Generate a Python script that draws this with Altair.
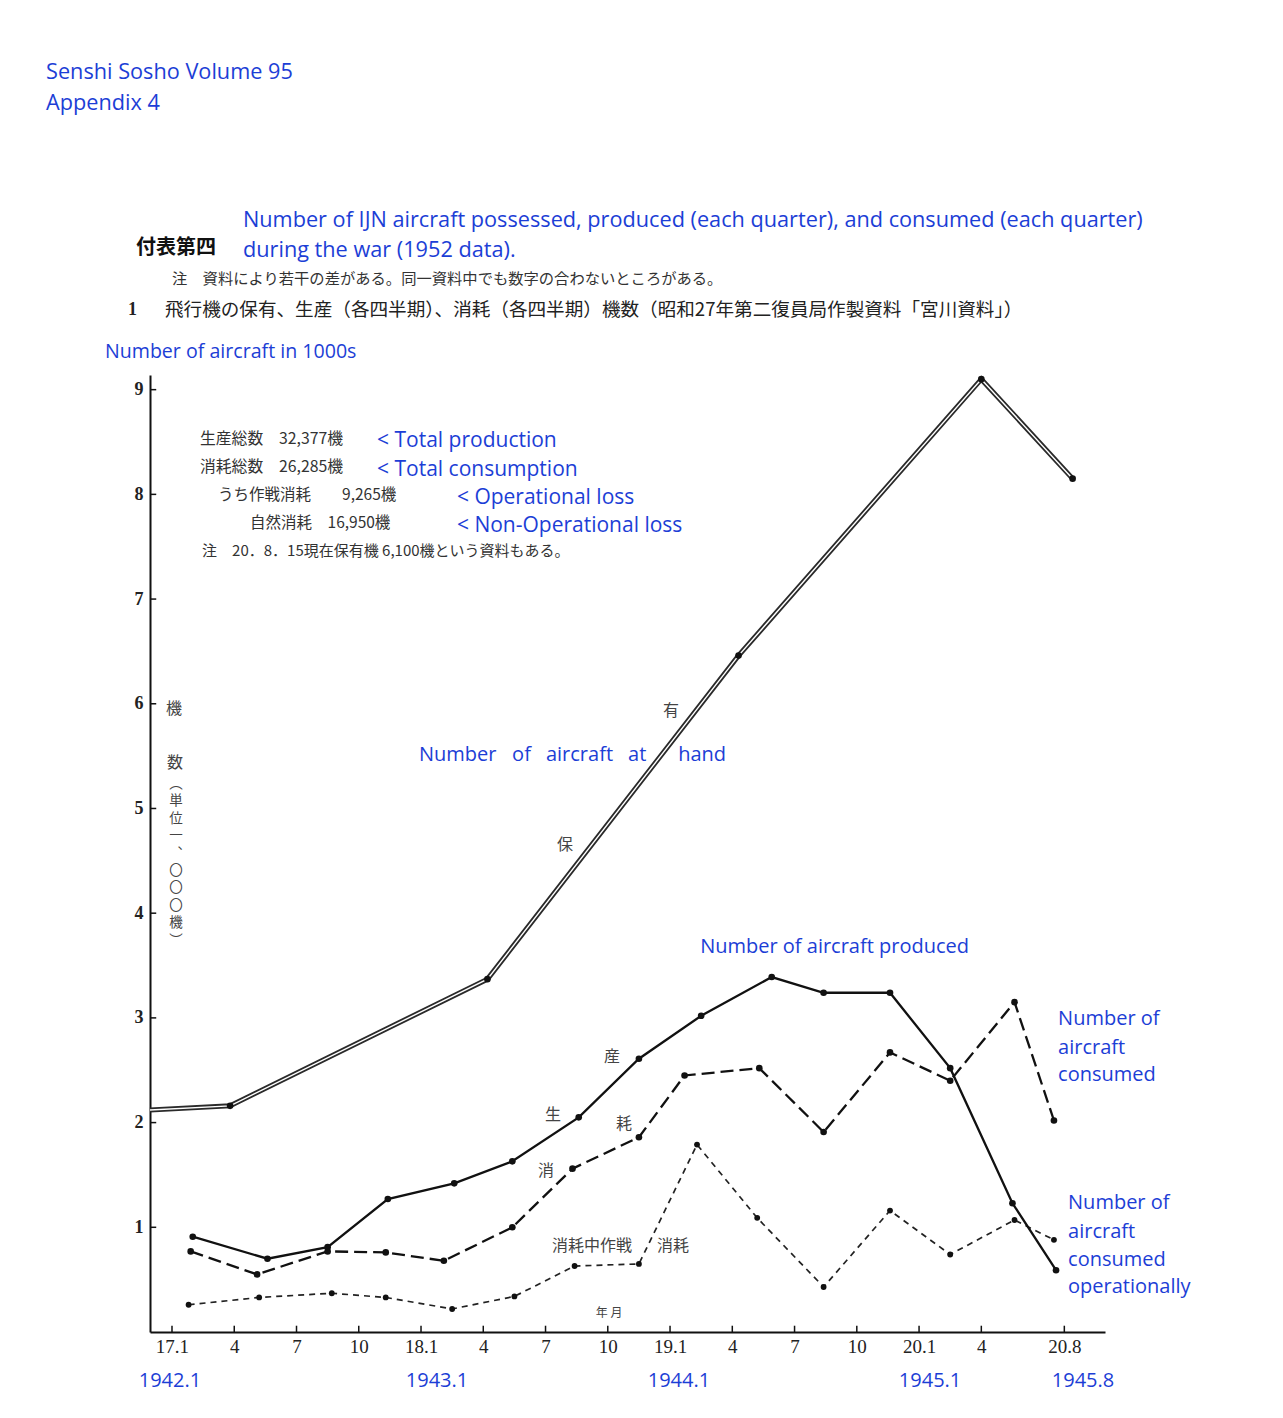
import altair as alt
import pandas as pd

# ---------------- data ----------------
# x = months since January 1942 (Showa 17.1), y = thousands of aircraft
hold_month = [-1.06, 2.8, 15.2, 27.3, 39.0, 43.4]
hold_value = [2.12, 2.16, 3.37, 6.46, 9.10, 8.15]

prod_month = [1.0, 4.6, 7.5, 10.4, 13.6, 16.4, 19.6, 22.5, 25.5, 28.9, 31.4, 34.6, 37.5, 40.5, 42.6]
prod_value = [0.91, 0.70, 0.81, 1.27, 1.42, 1.63, 2.05, 2.61, 3.02, 3.39, 3.24, 3.24, 2.52, 1.23, 0.59]

cons_month = [0.9, 4.1, 7.5, 10.3, 13.1, 16.4, 19.3, 22.5, 24.7, 28.3, 31.4, 34.6, 37.5, 40.6, 42.5]
cons_value = [0.77, 0.55, 0.77, 0.76, 0.68, 1.00, 1.56, 1.86, 2.45, 2.52, 1.91, 2.67, 2.40, 3.15, 2.02]

oper_month = [0.8, 4.2, 7.7, 10.3, 13.5, 16.5, 19.4, 22.5, 25.3, 28.2, 31.4, 34.6, 37.5, 40.6, 42.5]
oper_value = [0.26, 0.33, 0.37, 0.33, 0.22, 0.34, 0.63, 0.65, 1.79, 1.09, 0.43, 1.16, 0.74, 1.07, 0.88]

x_tick_values = [0, 3, 6, 9, 12, 15, 18, 21, 24, 27, 30, 33, 36, 39, 43]
x_tick_labels = ["17.1", "4", "7", "10", "18.1", "4", "7", "10", "19.1", "4", "7", "10", "20.1", "4", "20.8"]
y_tick_values = [1, 2, 3, 4, 5, 6, 7, 8, 9]

year_labels = ["1942.1", "1943.1", "1944.1", "1945.1", "1945.8"]
year_months = [-0.10, 12.77, 24.43, 36.53, 43.90]

# ---------------- styles ----------------
BLUE = "#1c3ed6"
BFONT = "Open Sans"
JFONT = "Noto Sans CJK JP"
SERIF = "Liberation Serif"
INK = "#222222"

XS = alt.Scale(domain=[-1.06, 44.96], nice=False, zero=False)
YS = alt.Scale(domain=[0, 9.14], nice=False, zero=False)

label_expr = "[{}][indexof([{}], datum.value)]".format(
    ",".join("'%s'" % s for s in x_tick_labels),
    ",".join(str(v) for v in x_tick_values),
)

XAX = alt.Axis(
    values=x_tick_values, labelExpr=label_expr, title=None, ticks=False,
    grid=False, domainColor="#111111", domainWidth=2, labelFont=SERIF,
    labelFontSize=19, labelColor=INK, labelPadding=5, labelFlush=False,
    labelOverlap=False,
)
YAX = alt.Axis(
    values=y_tick_values, title=None, ticks=False, grid=False,
    domainColor="#111111", domainWidth=2, labelFont=SERIF,
    labelFontSize=18, labelFontWeight="bold", labelColor=INK, labelPadding=7,
)


def X():
    return alt.X("x:Q", scale=XS, axis=XAX, title=None)


def Y():
    return alt.Y("y:Q", scale=YS, axis=YAX, title=None)


def enc(ch):
    return ch.encode(x=X(), y=Y())


def txt(x, y, s, size, color=BLUE, font=BFONT, align="left", baseline="middle", weight="normal"):
    df = pd.DataFrame({"x": [x], "y": [y], "t": [s]})
    return alt.Chart(df).mark_text(
        align=align, baseline=baseline, fontSize=size, font=font,
        color=color, fontWeight=weight
    ).encode(x=X(), y=Y(), text="t:N")


hold = pd.DataFrame({"x": hold_month, "y": hold_value})
prod = pd.DataFrame({"x": prod_month, "y": prod_value})
cons = pd.DataFrame({"x": cons_month, "y": cons_value})
oper = pd.DataFrame({"x": oper_month, "y": oper_value})

# inward ticks
yt = pd.DataFrame({"y": y_tick_values, "x": [-1.06] * 9, "x2": [-0.76] * 9})
ytick = alt.Chart(yt).mark_rule(color="#111111", strokeWidth=1.5).encode(
    x=X(), x2="x2:Q", y=Y(),
)
xt = pd.DataFrame({"x": x_tick_values, "y": [0.0] * len(x_tick_values), "y2": [0.06] * len(x_tick_values)})
xtick = alt.Chart(xt).mark_rule(color="#111111", strokeWidth=1.5).encode(
    x=X(), y=Y(), y2="y2:Q",
)

# series
hold_outer = enc(alt.Chart(hold).mark_line(color="#2a2a2a", strokeWidth=5.0))
hold_inner = enc(alt.Chart(hold).mark_line(color="white", strokeWidth=1.4))
hold_pts = enc(alt.Chart(hold.iloc[1:]).mark_point(filled=True, color="#111111", size=44, opacity=1))

prod_line = enc(alt.Chart(prod).mark_line(color="#111111", strokeWidth=2.3))
prod_pts = enc(alt.Chart(prod).mark_point(filled=True, color="#111111", size=44, opacity=1))

cons_line = enc(alt.Chart(cons).mark_line(color="#111111", strokeWidth=2.3, strokeDash=[13, 6]))
cons_pts = enc(alt.Chart(cons).mark_point(filled=True, color="#111111", size=44, opacity=1))

oper_line = enc(alt.Chart(oper).mark_line(color="#222222", strokeWidth=1.7, strokeDash=[6, 5]))
oper_pts = enc(alt.Chart(oper).mark_point(filled=True, color="#111111", size=34, opacity=1))

JC = "#333333"
texts = [
    txt(-6.07, 12.03, "Senshi Sosho Volume 95", 21.7),
    txt(-6.07, 11.74, "Appendix 4", 21.7),
    txt(3.42, 10.62, "Number of IJN aircraft possessed, produced (each quarter), and consumed (each quarter)", 21.7),
    txt(3.42, 10.33, "during the war (1952 data).", 21.7),
    txt(-1.73, 10.35, "付表第四", 20, color="#111111", font=JFONT, weight="bold"),
    txt(0.0, 10.06, "注　資料により若干の差がある。同一資料中でも数字の合わないところがある。", 15.3, color=JC, font=JFONT),
    txt(-2.12, 9.76, "1", 18, color="#222222", font=SERIF, weight="bold"),
    txt(-0.34, 9.76, "飛行機の保有、生産（各四半期）、消耗（各四半期）機数（昭和27年第二復員局作製資料「宮川資料」）", 18.6, color="#222222", font=JFONT),
    txt(-3.23, 9.36, "Number of aircraft in 1000s", 19.6),
    txt(1.35, 8.53, "生産総数　32,377機", 15.8, color=JC, font=JFONT),
    txt(1.35, 8.26, "消耗総数　26,285機", 15.8, color=JC, font=JFONT),
    txt(2.22, 7.99, "うち作戦消耗　　9,265機", 15.5, color=JC, font=JFONT),
    txt(3.76, 7.73, "自然消耗　16,950機", 15.5, color=JC, font=JFONT),
    txt(1.45, 7.46, "注　20．8．15現在保有機 6,100機という資料もある。", 15, color=JC, font=JFONT),
    txt(9.88, 8.51, "< Total production", 21),
    txt(9.88, 8.23, "< Total consumption", 21),
    txt(13.73, 7.97, "< Operational loss", 21),
    txt(13.73, 7.70, "< Non-Operational loss", 21),
    txt(11.90, 5.51, "Number", 20),
    txt(16.39, 5.51, "of", 20),
    txt(18.02, 5.51, "aircraft", 20),
    txt(21.98, 5.51, "at", 20),
    txt(24.39, 5.51, "hand", 20),
    txt(25.45, 3.68, "Number of aircraft produced", 20),
    txt(42.70, 2.99, "Number of", 20),
    txt(42.70, 2.71, "aircraft", 20),
    txt(42.70, 2.45, "consumed", 20),
    txt(43.18, 1.23, "Number of", 20),
    txt(43.18, 0.955, "aircraft", 20),
    txt(43.18, 0.69, "consumed", 20),
    txt(43.18, 0.43, "operationally", 20),
    txt(24.05, 5.93, "有", 16, color="#444444", font=JFONT, align="center"),
    txt(18.94, 4.65, "保", 16, color="#444444", font=JFONT, align="center"),
    txt(21.20, 2.63, "産", 16, color="#444444", font=JFONT, align="center"),
    txt(18.36, 2.07, "生", 16, color="#444444", font=JFONT, align="center"),
    txt(21.78, 1.99, "耗", 16, color="#444444", font=JFONT, align="center"),
    txt(18.02, 1.54, "消", 16, color="#444444", font=JFONT, align="center"),
    txt(18.31, 0.82, "消耗中作戦", 16, color="#444444", font=JFONT),
    txt(23.37, 0.82, "消耗", 16, color="#444444", font=JFONT),
    txt(21.06, 0.18, "年 月", 12, color="#444444", font=JFONT, align="center"),
    txt(0.10, 5.95, "機", 16, color="#444444", font=JFONT, align="center"),
    txt(0.14, 5.43, "数", 16, color="#444444", font=JFONT, align="center"),
]

vert = alt.Chart(pd.DataFrame({"x": [0.19], "y": [5.30]})).mark_text(
    text=["︵", "単", "位", "一", "︑", "〇", "〇", "〇", "機", "︶"],
    align="center", baseline="top", fontSize=13.5, lineHeight=17.4,
    font=JFONT, color="#444444",
).encode(x=X(), y=Y())

yrs = alt.Chart(pd.DataFrame({"x": year_months, "y": [-0.47] * 5, "t": year_labels})).mark_text(
    align="center", baseline="middle", fontSize=20, font=BFONT, color=BLUE,
).encode(x=X(), y=Y(), text="t:N")

chart = alt.layer(
    ytick, xtick,
    hold_outer, hold_inner, hold_pts,
    oper_line, oper_pts,
    cons_line, cons_pts,
    prod_line, prod_pts,
    vert, yrs, *texts,
).properties(
    width=955, height=957,
    autosize=alt.AutoSizeParams(type="none"),
    padding={"left": 142, "top": 367, "right": 170, "bottom": 78},
    background="white",
).configure_view(stroke=None)

chart.save("out.html", embed_options={"renderer": "svg", "actions": False})
